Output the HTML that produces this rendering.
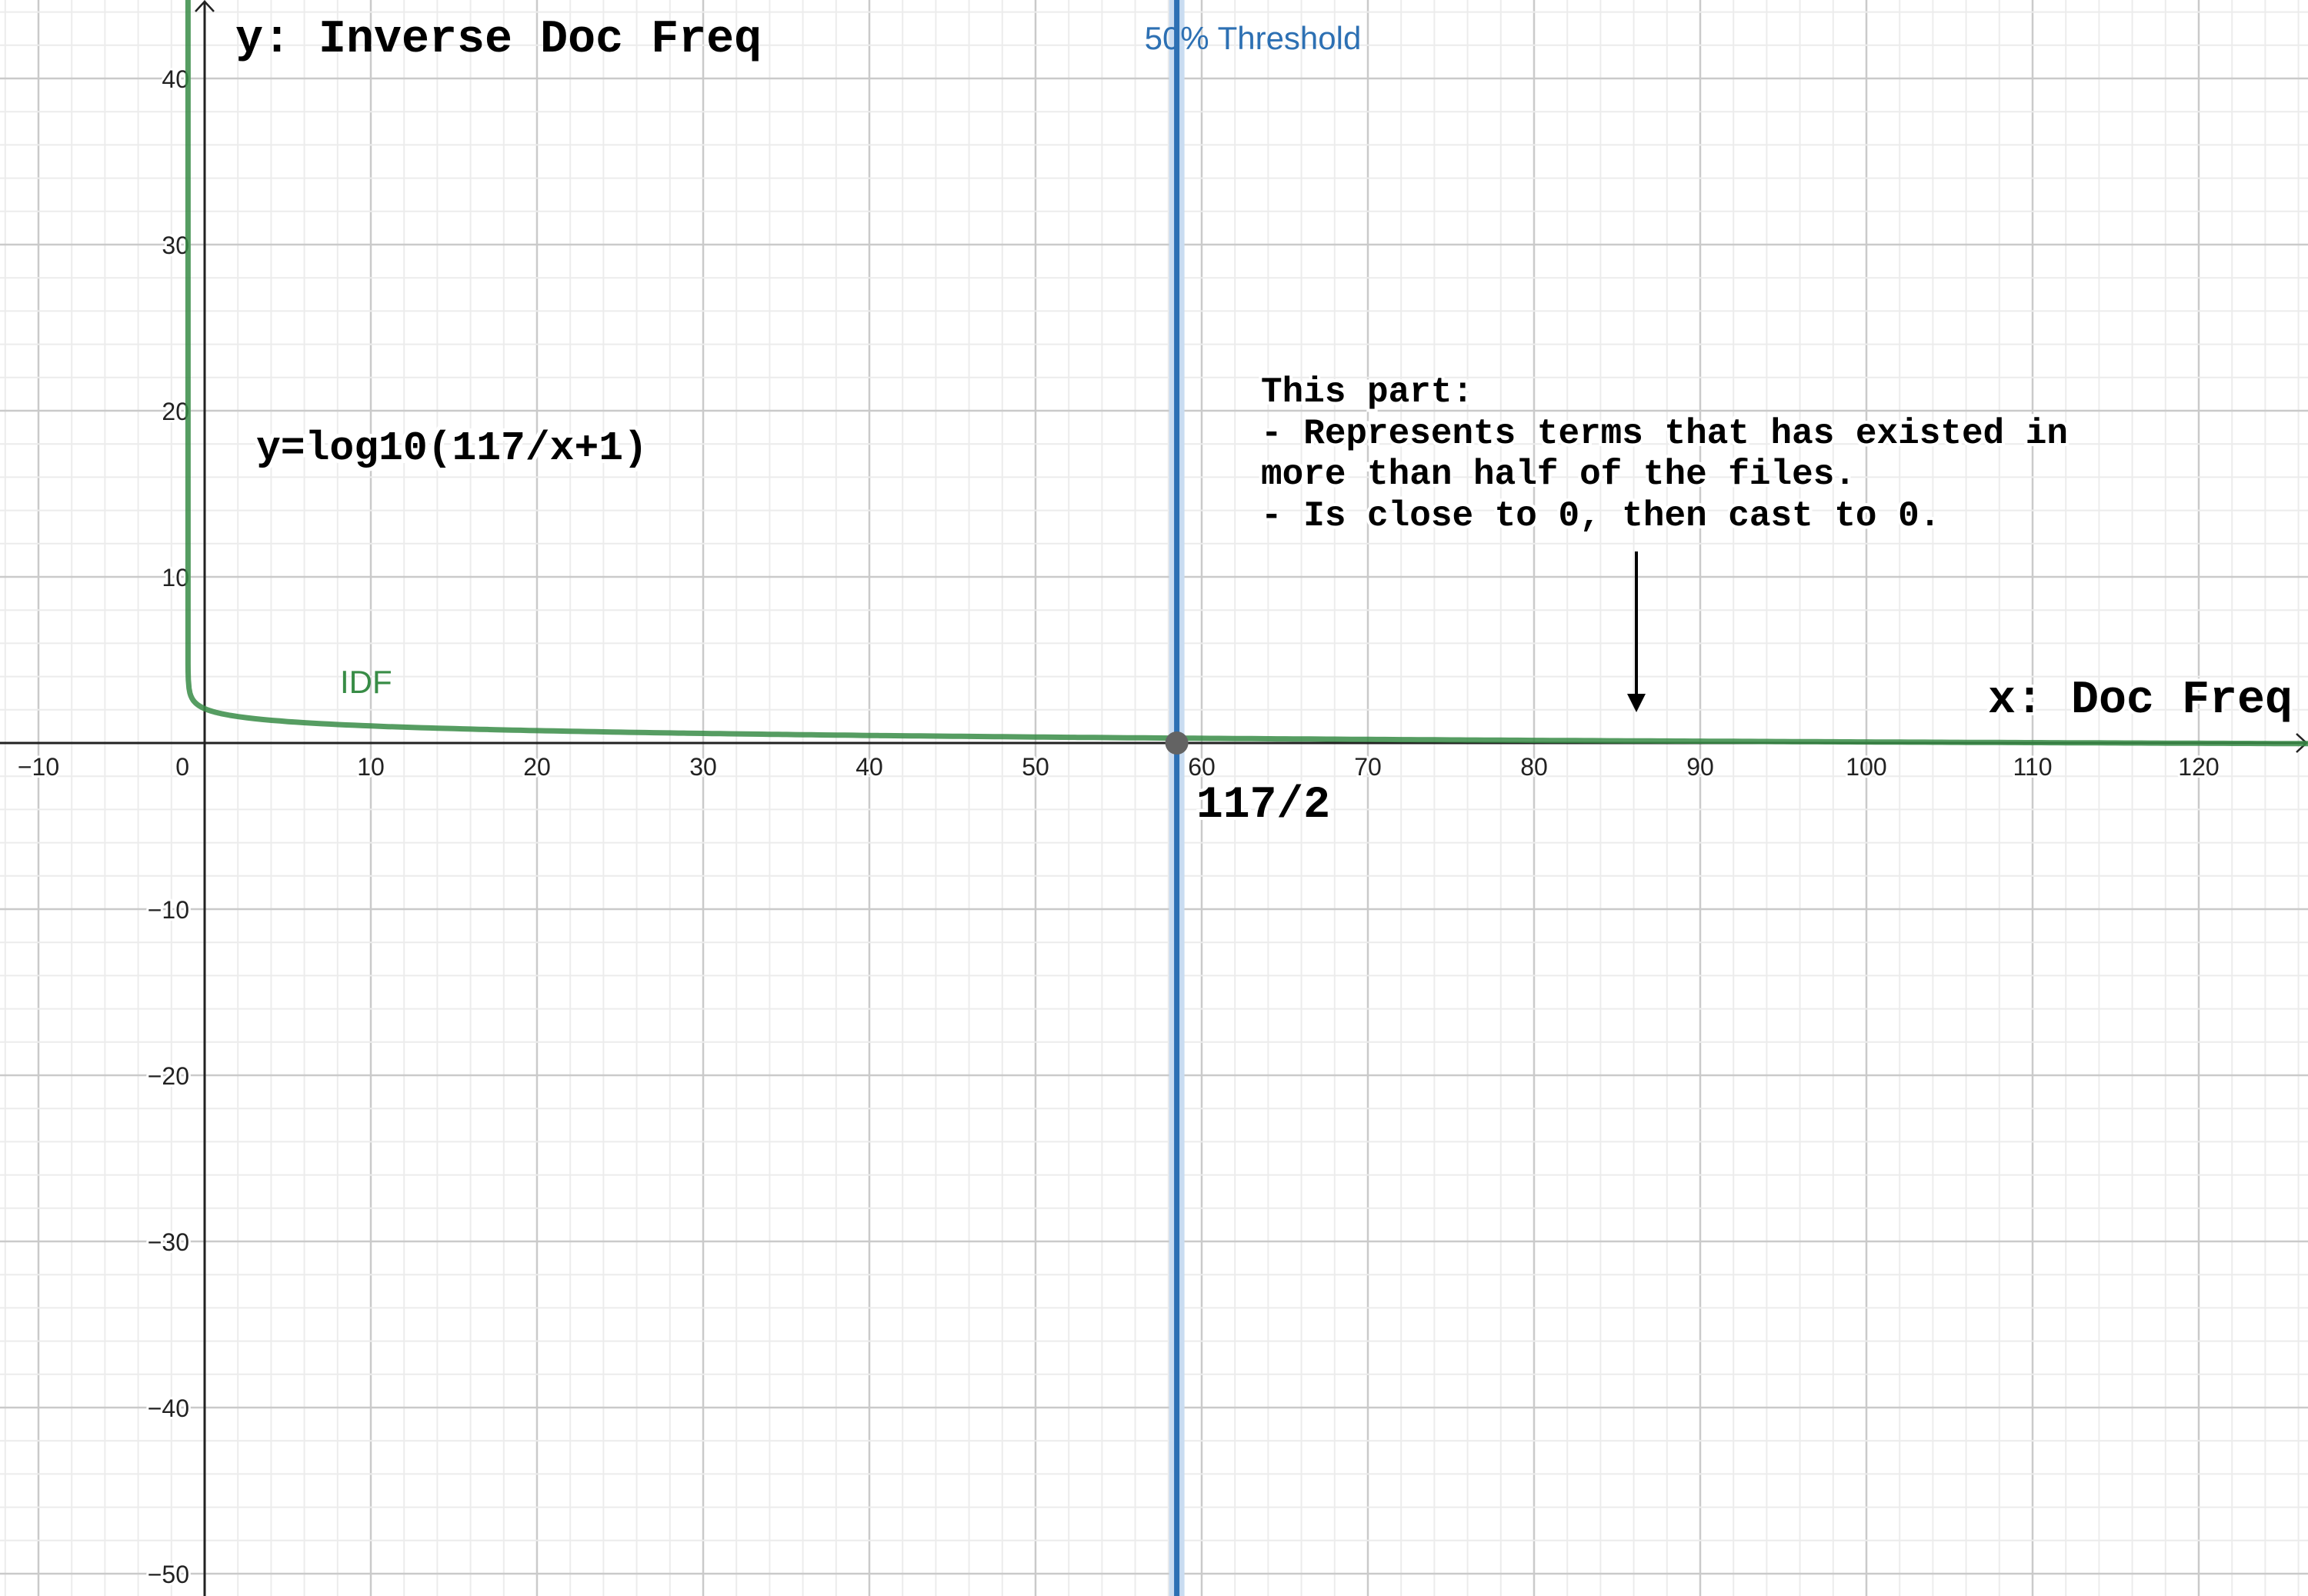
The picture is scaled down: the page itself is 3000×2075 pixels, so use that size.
<!DOCTYPE html>
<html><head><meta charset="utf-8"><style>
html,body{margin:0;padding:0;background:#fff;}
svg{display:block;}
.tick{font-family:"Liberation Sans",sans-serif;font-size:32px;fill:#222;stroke:#fff;stroke-width:6px;paint-order:stroke;stroke-linejoin:round;}
.mono{font-family:"Liberation Mono",monospace;font-weight:bold;fill:#000;}
</style></head><body>
<svg id="chart" width="3000" height="2075" viewBox="0 0 3000 2075" xmlns="http://www.w3.org/2000/svg">
<g id="grid"></g>
<g id="axes"></g>
<g id="ticks"></g>
<g id="series"></g>
<text class="mono" x="306" y="67" font-size="60">y: Inverse Doc Freq</text>
<text class="mono" x="2584" y="926" font-size="60" style="stroke:#fff;stroke-width:8px;paint-order:stroke">x: Doc Freq</text>
<text class="mono" x="333" y="597" font-size="53" style="stroke:#fff;stroke-width:10px;paint-order:stroke">y=log10(117/x+1)</text>
<text class="mono" x="1555" y="1062" font-size="58" style="stroke:#fff;stroke-width:8px;paint-order:stroke">117/2</text>
<g class="mono" font-size="46" style="stroke:#fff;stroke-width:8px;paint-order:stroke">
<text x="1639" y="522">This part:</text>
<text x="1639" y="576">- Represents terms that has existed in</text>
<text x="1639" y="629">more than half of the files.</text>
<text x="1639" y="683">- Is close to 0, then cast to 0.</text>
</g>
<g>
<line x1="2127" y1="717" x2="2127" y2="910" stroke="#000" stroke-width="4"/>
<polygon points="2115,902 2139,902 2127,926" fill="#000"/>
</g>
</svg>
<script>
const N = 117;
const xTicks = [-10,10,20,30,40,50,60,70,80,90,100,110,120];
const yTicks = [-50,-40,-30,-20,-10,10,20,30,40];
const thresholdX = [58.5];
const thresholdLabel = ["50% Threshold"];
const seriesLabel = ["IDF"];
const ox = 266, oy = 966, unit = 21.6;
const sx = v => ox + v * unit;
const sy = v => oy - v * unit;
const NS = "http://www.w3.org/2000/svg";
function mk(tag, attrs, parent){const e=document.createElementNS(NS,tag);for(const k in attrs)e.setAttribute(k,attrs[k]);parent.appendChild(e);return e;}
const grid=document.getElementById('grid'), axes=document.getElementById('axes'), ticks=document.getElementById('ticks'), series=document.getElementById('series');
const xmin=-12.3,xmax=126.6,ymin=-51.4,ymax=44.8;
for(let v=Math.ceil(xmin/2)*2; v<=xmax; v+=2){
  const major=v%10===0;
  const l=mk('line',{x1:sx(v),x2:sx(v),y1:0,y2:2075,stroke:major?'#cacaca':'#ececec','stroke-width':major?2.5:2},grid);
  
  
}
for(let v=Math.ceil(ymin/2)*2; v<=ymax; v+=2){
  const major=v%10===0;
  const l=mk('line',{x1:0,x2:3000,y1:sy(v),y2:sy(v),stroke:major?'#cacaca':'#ececec','stroke-width':major?2.5:2},grid);
  
  
}
const xa=mk('line',{x1:0,x2:2998,y1:oy,y2:oy,stroke:'#222','stroke-width':3},axes);


const xarr=mk('polyline',{points:`2985,${oy-12} 2998,${oy} 2985,${oy+12}`,fill:'none',stroke:'#222','stroke-width':2.5},axes);


const ya=mk('line',{x1:ox,x2:ox,y1:2,y2:2075,stroke:'#222','stroke-width':3},axes);


const yarr=mk('polyline',{points:`${ox-12},15 ${ox},2 ${ox+12},15`,fill:'none',stroke:'#222','stroke-width':2.5},axes);


const fmt=v=>v<0?'\u2212'+Math.abs(v):String(v);
xTicks.forEach(v=>{
  const t=mk('text',{x:sx(v),y:1008,'text-anchor':'middle',class:'tick'},ticks);
  t.textContent=fmt(v);
  
  
});
const z=mk('text',{x:ox-20,y:1008,'text-anchor':'end',class:'tick'},ticks);
z.textContent='0';


yTicks.forEach(v=>{
  const t=mk('text',{x:ox-20,y:sy(v)+12,'text-anchor':'end',class:'tick'},ticks);
  t.textContent=fmt(v);
  
  
});
const tx=sx(thresholdX[0]);
const halo=mk('line',{x1:tx,x2:tx,y1:0,y2:2075,stroke:'#c9dcf1','stroke-width':20},series);


const tl=mk('line',{x1:tx,x2:tx,y1:0,y2:2075,stroke:'#2d70b3','stroke-width':7},series);


const tt=mk('text',{x:tx-42,y:64,'font-family':'Liberation Sans, sans-serif','font-size':42,fill:'#2d70b3'},series);
tt.textContent=thresholdLabel[0];


let d='';
const pts=[];
for(let y=ymax+1;y>3;y-=0.5){pts.push([N/Math.pow(10,y)-1,y]);}
for(let x=N/1000-1;x<=xmax+1;x+= x<1?0.02:0.5){pts.push([x,Math.log10(N/(x+1))]);}
pts.forEach((p,i)=>{d+=(i?'L':'M')+sx(p[0]).toFixed(1)+','+sy(p[1]).toFixed(1);});
const curve=mk('path',{d:d,fill:'none',stroke:'#388c46','stroke-opacity':0.85,'stroke-width':7,'stroke-linejoin':'round'},series);


const cl=mk('text',{x:442,y:901,'font-family':'Liberation Sans, sans-serif','font-size':42,fill:'#388c46'},series);
cl.textContent=seriesLabel[0];


const pt=mk('circle',{cx:tx,cy:oy,r:15,fill:'#636363'},series);


</script>
</body></html>
